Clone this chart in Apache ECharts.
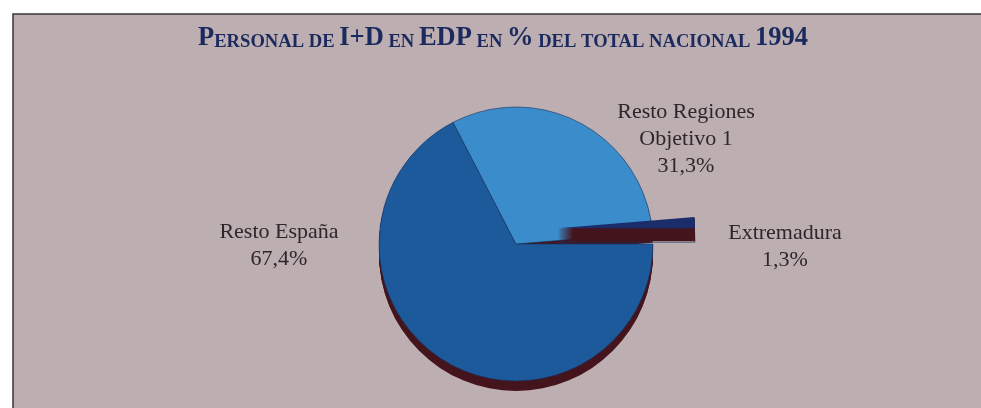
<!DOCTYPE html>
<html>
<head>
<meta charset="utf-8">
<script src="https://cdn.jsdelivr.net/npm/echarts@6/dist/echarts.min.js"></script>
<style>
html,body{margin:0;padding:0;background:#ffffff;}
#chart{width:981px;height:408px;}
</style>
</head>
<body>
<div id="chart"></div>
<script>
// Data
var categories = ['Resto España', 'Resto Regiones\nObjetivo 1', 'Extremadura'];
var values = [67.4, 31.3, 1.3];
var valueLabels = ['67,4%', '31,3%', '1,3%'];
var explodedIndex = 2;

// Styles
var sliceColors = ['#1d5a9c', '#3b8ccb', '#1b2c6b'];
var rimColor = '#45151e';
var rimDepth = 10;
var pieCenter = [516, 244];
var pieRadius = 137;
var explodeOffset = 42;
var explodeLift = 14;
var labelPos = [[279, 246], [686, 139], [785, 247]];
var transparent = 'rgba(0,0,0,0)';

var chart = echarts.init(document.getElementById('chart'));

function buildData(colorFn, withSelect) {
  return categories.map(function (c, i) {
    return {
      name: c,
      value: values[i],
      selected: withSelect && i === explodedIndex,
      itemStyle: { color: colorFn(i) }
    };
  });
}

function pieSeries(name, center, z, colorFn, extra) {
  var s = {
    type: 'pie',
    name: name,
    center: center,
    radius: pieRadius,
    startAngle: 0,
    clockwise: true,
    selectedMode: 'single',
    selectedOffset: explodeOffset,
    silent: true,
    z: z,
    label: { show: false },
    labelLine: { show: false },
    emphasis: { disabled: true },
    select: { itemStyle: { color: colorFn(explodedIndex) } },
    itemStyle: { borderWidth: 0 },
    data: buildData(colorFn, true)
  };
  for (var key in extra) s[key] = extra[key];
  return s;
}

var series = [];
// 3D rim of the pie body
for (var k = rimDepth; k >= 1; k--) {
  series.push(pieSeries('rim' + k, [pieCenter[0], pieCenter[1] + k], 1,
    function (i) { return i === explodedIndex ? transparent : rimColor; }));
}
// top face of the pie body
series.push(pieSeries('main', pieCenter, 2,
  function (i) { return i === explodedIndex ? transparent : sliceColors[i]; },
  { itemStyle: { borderColor: '#18325f', borderWidth: 0.6 } }));
// exploded slice: rim then top face, drawn above the body
for (var j = rimDepth + 3; j >= 1; j--) {
  series.push(pieSeries('exRim' + j, [pieCenter[0], pieCenter[1] - explodeLift + j], 3,
    function (i) { return i === explodedIndex ? rimColor : transparent; }));
}
series.push(pieSeries('exTop', [pieCenter[0], pieCenter[1] - explodeLift], 4,
  function (i) { return i === explodedIndex ? sliceColors[i] : transparent; }));

// labels carried by a transparent copy
series.push({
  type: 'pie',
  name: 'labels',
  center: pieCenter,
  radius: pieRadius,
  startAngle: 0,
  clockwise: true,
  silent: true,
  z: 5,
  emphasis: { disabled: true },
  itemStyle: { borderWidth: 0 },
  label: {
    show: true,
    position: 'outside',
    fontFamily: 'Liberation Serif',
    fontSize: 22,
    lineHeight: 27,
    color: '#2e2629',
    align: 'center',
    formatter: function (p) { return p.name + '\n' + valueLabels[p.dataIndex]; }
  },
  labelLine: { show: false },
  labelLayout: function (p) {
    var lp = labelPos[p.dataIndex];
    return { x: lp[0], y: lp[1], align: 'center', verticalAlign: 'middle' };
  },
  data: buildData(function () { return transparent; }, false)
});

var option = {
  animation: false,
  graphic: [{
    type: 'rect',
    z: -10,
    shape: { x: 13, y: 14, width: 980, height: 400 },
    style: { fill: '#bdaeb1', stroke: '#3b3436', lineWidth: 1.5 }
  }],
  title: {
    text: '{a|P}{b|ERSONAL DE }{a|I+D}{b| EN }{a|EDP}{b| EN }{a|%}{b| DEL TOTAL NACIONAL }{a|1994}',
    left: 498,
    textAlign: 'center',
    top: 20,
    textStyle: {
      rich: {
        a: { fontFamily: 'Liberation Serif', fontWeight: 'bold', fontSize: 26.5, color: '#1b2a5e' },
        b: { fontFamily: 'Liberation Serif', fontWeight: 'bold', fontSize: 18.6, color: '#1b2a5e', verticalAlign: 'bottom' }
      }
    }
  },
  series: series
};
chart.setOption(option);
</script>
</body>
</html>
